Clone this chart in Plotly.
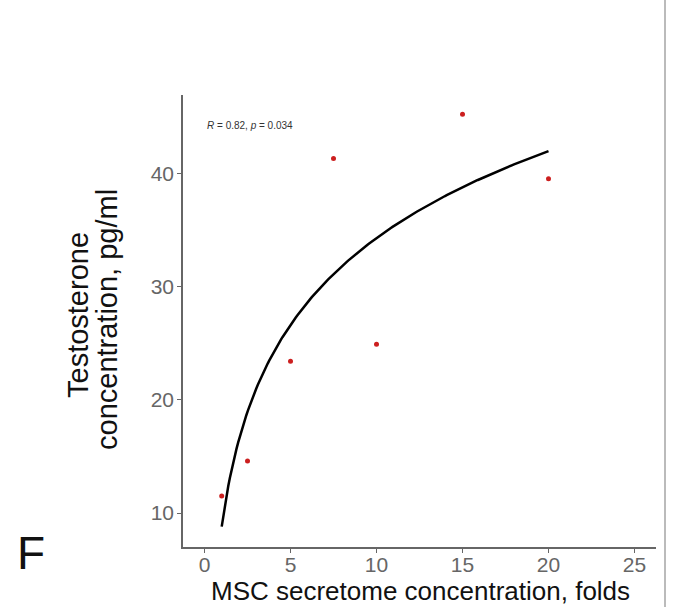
import numpy as np
import plotly.graph_objects as go

# Data
folds = [1, 2.5, 5, 7.5, 10, 15, 20]
testosterone = [11.5, 14.6, 23.4, 41.3, 24.9, 45.2, 39.5]
x_ticks = [0, 5, 10, 15, 20, 25]
y_ticks = [10, 20, 30, 40]
stat_label = "<i>R</i> = 0.82, <i>p</i> = 0.034"

# Logarithmic fit y = a + b*ln(x) (regression line derived from the data)
b, a = np.polyfit(np.log(folds), testosterone, 1)
xf = np.linspace(min(folds), max(folds), 200)
yf = a + b * np.log(xf)

FONT = "Liberation Sans, Arial, sans-serif"
W, H = 679, 607
pl, pr, pt, pb = 183, 23, 95, 60
pw, ph = W - pl - pr, H - pt - pb


def px_to_paper(px, py):
    return (px - pl) / pw, 1 - (py - pt) / ph


fig = go.Figure()
fig.add_trace(go.Scatter(x=xf, y=yf, mode="lines",
                         line=dict(color="black", width=2.5),
                         showlegend=False, hoverinfo="skip"))
fig.add_trace(go.Scatter(x=folds, y=testosterone, mode="markers",
                         marker=dict(color="#cc1f1f", size=5),
                         showlegend=False))

axis_common = dict(showgrid=False, zeroline=False, showline=True,
                   linecolor="#666666", linewidth=1.5, ticks="outside",
                   ticklen=4, tickcolor="#666666", mirror=False,
                   tickfont=dict(family=FONT, size=21, color="#666666"))

fig.update_xaxes(range=[-1.25, 26.25], tickvals=x_ticks,
                 ticklabelstandoff=-6, **axis_common)
fig.update_yaxes(range=[7.0, 46.9], tickvals=y_ticks,
                 ticklabelstandoff=-1, **axis_common)

anns = []
for text, (px, py), size, extra in [
    (stat_label, (205, 125), 10, dict(xanchor="left")),
    ("Testosterone", (78, 315), 29, dict(textangle=-90)),
    ("concentration, pg/ml", (107, 320), 29, dict(textangle=-90)),
    ("MSC secretome concentration, folds", (420, 591), 26, {}),
    ("F", (31, 553), 46, {}),
]:
    xp, yp = px_to_paper(px, py)
    d = dict(text=text, x=xp, y=yp, xref="paper", yref="paper",
             xanchor="center", yanchor="middle", showarrow=False,
             font=dict(family=FONT, size=size,
                       color="#333333" if size == 10 else "#111111"))
    d.update(extra)
    anns.append(d)

xline, _ = px_to_paper(665, 0)
fig.update_layout(
    width=W, height=H,
    margin=dict(l=pl, r=pr, t=pt, b=pb),
    plot_bgcolor="white", paper_bgcolor="white",
    font=dict(family=FONT),
    annotations=anns,
    shapes=[dict(type="line", xref="paper", yref="paper",
                 x0=xline, x1=xline, y0=-pb / ph, y1=1 + pt / ph,
                 line=dict(color="#bbbbbb", width=2))],
)

fig.write_html("out.html", config={"displayModeBar": False},
               post_script="document.body.style.margin='0';document.body.style.overflow='hidden';")
